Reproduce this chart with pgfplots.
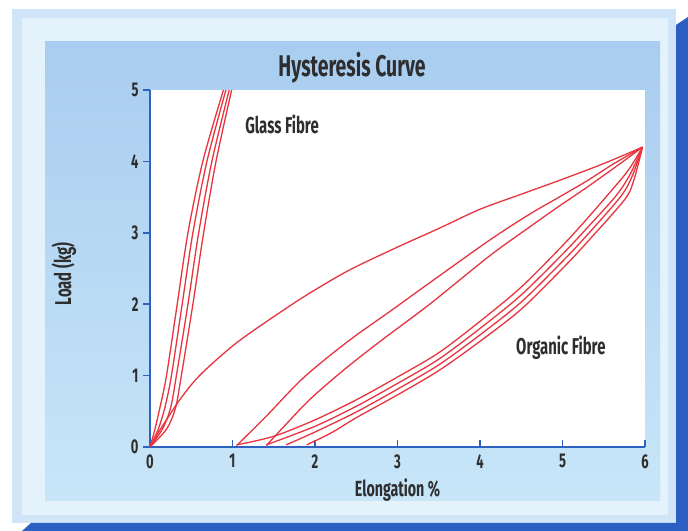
\documentclass[border=0pt]{standalone}
\usepackage{fontspec}
\setmainfont{Fira Sans}[FakeStretch=0.65]
\usepackage{pgfplots}
\pgfplotsset{compat=1.18}
\definecolor{curve}{HTML}{E8343F}
\definecolor{axisblue}{HTML}{2F62C0}
\definecolor{darkstrip}{HTML}{2C5FC4}
\definecolor{bevel}{HTML}{D0E6F8}
\definecolor{ring}{HTML}{E4F2FC}
\definecolor{innertop}{HTML}{A9CDF0}
\definecolor{innerbot}{HTML}{C8E6F8}
\definecolor{txt}{HTML}{2E2E2E}
\pgfplotsset{hyst/.style={draw=curve, solid, line width=1.3bp, smooth, tension=0.5, mark=none}}
\begin{document}
\begin{tikzpicture}
% background panels
\fill[white] (0bp,0bp) rectangle (688bp,531bp);
\fill[bevel] (12bp,8bp) rectangle (676bp,522bp);
\fill[ring] (22bp,16bp) rectangle (668bp,513bp);
\shade[top color=innertop, bottom color=innerbot] (45bp,30bp) rectangle (660bp,489bp);
\fill[darkstrip] (676bp,0bp) -- (676bp,506bp) -- (688bp,514bp) -- (688bp,0bp) -- cycle;
\fill[darkstrip] (22bp,0bp) -- (31bp,8bp) -- (688bp,8bp) -- (688bp,0bp) -- cycle;
\node[font=\fontsize{30}{30}\selectfont\bfseries, text=txt] at (352bp,463bp) {Hysteresis Curve};
\begin{axis}[
  at={(150bp,84bp)}, anchor=south west, scale only axis,
  width=495bp, height=357bp,
  xmin=0, xmax=6, ymin=0, ymax=5,
  axis lines=left,
  axis line style={-, draw=axisblue, line width=1.5bp},
  axis background/.style={fill=white},
  xtick={0,1,2,3,4,5,6}, ytick={0,1,2,3,4,5},
  xtick align=inside, ytick align=outside,
  major tick length=7bp,
  tick style={draw=axisblue, line width=1.5bp},
  /pgf/number format/assume math mode=true,
  ticklabel style={font=\fontsize{20}{20}\selectfont\bfseries, text=txt},
  xticklabel style={yshift=-4bp},
  yticklabel style={xshift=-1bp},
  xlabel={Elongation \%}, ylabel={Load (kg)},
  xlabel style={at={(axis description cs:0.5,-0.12)}, anchor=center, font=\fontsize{22}{22}\selectfont\bfseries, text=txt},
  ylabel style={at={(axis description cs:-0.174,0.485)}, anchor=center, font=\fontsize{23}{23}\selectfont\bfseries, text=txt},
  clip=true,
]
% Glass fibre
\addplot[hyst] coordinates {(0,0) (0.06,0.25) (0.12,0.55) (0.2,1.0) (0.33,2.0) (0.46,3.0) (0.64,4.0) (0.89,5.0)};
\addplot[hyst] coordinates {(0,0) (0.1,0.25) (0.18,0.55) (0.26,1.0) (0.39,2.0) (0.52,3.0) (0.69,4.0) (0.92,5.0)};
\addplot[hyst] coordinates {(0,0) (0.15,0.25) (0.25,0.55) (0.32,1.0) (0.46,2.0) (0.59,3.0) (0.75,4.0) (0.96,5.0)};
\addplot[hyst] coordinates {(0,0) (0.2,0.25) (0.31,0.55) (0.38,1.0) (0.52,2.0) (0.65,3.0) (0.8,4.0) (0.99,5.0)};
% Organic fibre: first loading
\addplot[hyst] coordinates {(0,0) (0.1,0.2) (0.2,0.38) (0.36,0.66) (0.6,1.0) (1.05,1.46) (1.66,1.95) (2.0,2.2) (2.42,2.48) (3.0,2.8) (3.5,3.06) (4.0,3.33) (4.5,3.54) (5.0,3.75) (5.5,3.97) (5.97,4.2)};
% reloading
\addplot[hyst] coordinates {(1.05,0.02) (1.4,0.42) (1.86,0.97) (2.4,1.48) (2.91,1.9) (3.39,2.3) (4.12,2.9) (4.6,3.26) (4.93,3.48) (5.3,3.73) (5.61,3.96) (5.97,4.2)};
\addplot[hyst] coordinates {(1.41,0.02) (1.65,0.32) (1.95,0.68) (2.35,1.08) (2.79,1.48) (3.39,2.0) (4.12,2.68) (4.6,3.08) (4.93,3.35) (5.3,3.64) (5.7,3.97) (5.97,4.2)};
% unloading
\addplot[hyst] coordinates {(5.97,4.2) (5.8,3.88) (5.6,3.6) (5.3,3.2) (5.0,2.82) (4.5,2.24) (4.0,1.76) (3.5,1.32) (3.0,0.98) (2.5,0.66) (2.0,0.38) (1.5,0.15) (1.05,0.03)};
\addplot[hyst] coordinates {(5.97,4.2) (5.82,3.82) (5.65,3.52) (5.3,3.07) (5.0,2.7) (4.5,2.13) (4.0,1.66) (3.5,1.23) (3.0,0.89) (2.5,0.57) (2.0,0.29) (1.41,0.03)};
\addplot[hyst] coordinates {(5.97,4.2) (5.84,3.78) (5.7,3.5) (5.3,2.97) (5.0,2.6) (4.5,2.03) (4.0,1.57) (3.5,1.15) (3.0,0.81) (2.5,0.49) (2.0,0.21) (1.65,0.03)};
\addplot[hyst] coordinates {(5.97,4.2) (5.86,3.72) (5.75,3.46) (5.3,2.87) (5.0,2.5) (4.5,1.93) (4.0,1.48) (3.5,1.07) (3.0,0.73) (2.5,0.41) (2.2,0.2) (1.9,0.03)};
\node[font=\fontsize{23}{23}\selectfont\bfseries, text=txt] at (axis cs:1.6,4.52) {Glass Fibre};
\node[font=\fontsize{23}{23}\selectfont\bfseries, text=txt] at (axis cs:4.98,1.39) {Organic Fibre};
\end{axis}
\end{tikzpicture}
\end{document}
